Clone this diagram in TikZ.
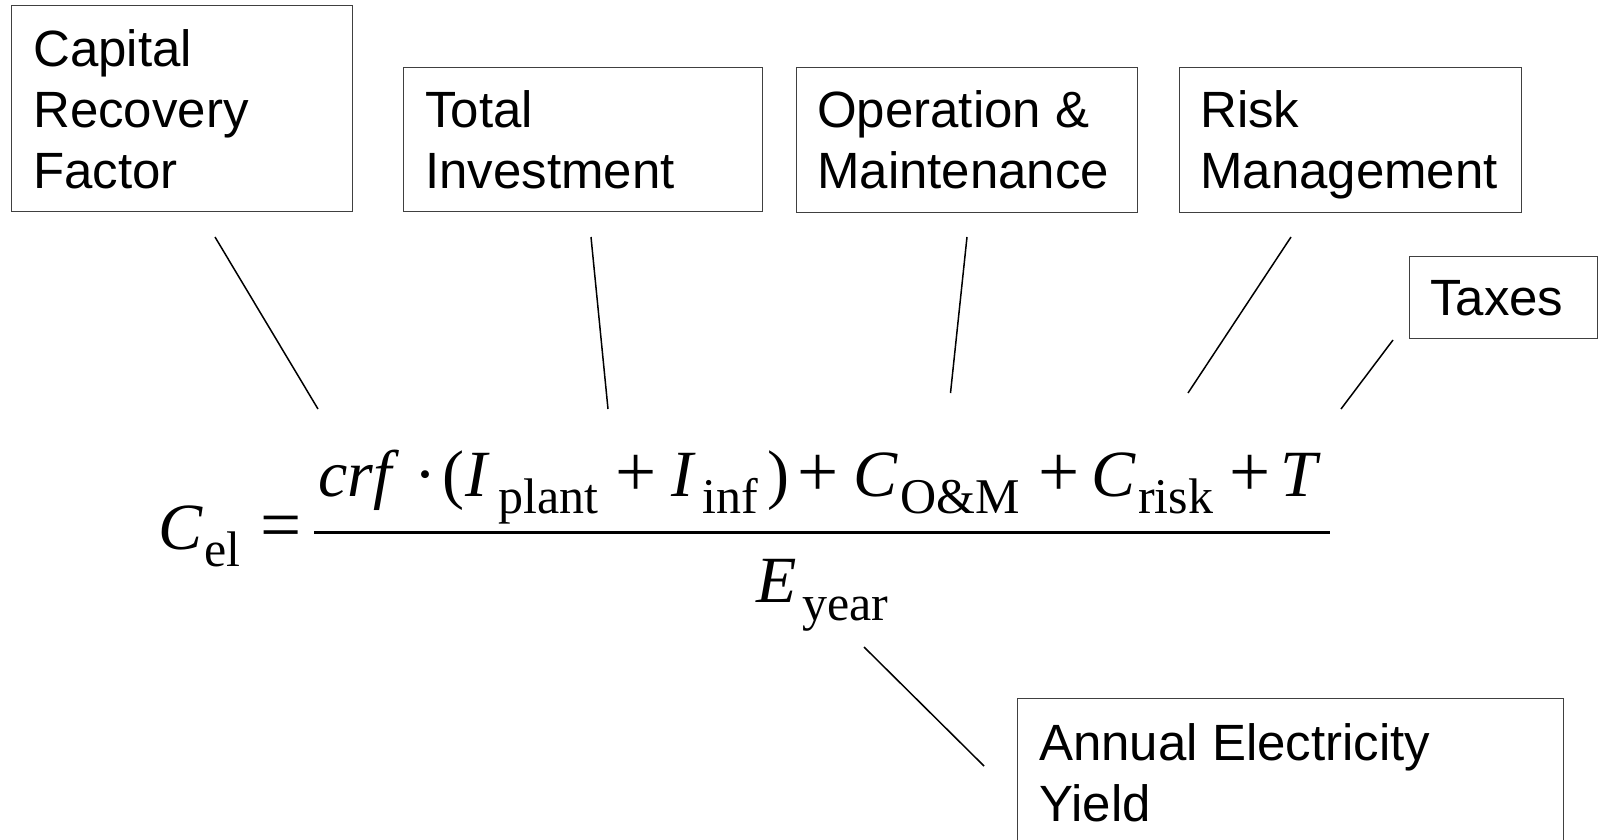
\documentclass[tikz,border=0pt]{standalone}
\usepackage{fontspec}
\setmainfont{Liberation Serif}
\newfontfamily\boxfont{Liberation Sans}
\newcommand{\boxlines}[1]{\vtop{\baselineskip=61pt\lineskiplimit=-100pt #1}}
\begin{document}
\begin{tikzpicture}[x=1pt,y=-1pt,
  boxstyle/.style={draw=black!75,line width=1.2pt,inner sep=0pt,anchor=north west},
  lbl/.style={inner sep=0pt,anchor=base west,font=\boxfont\fontsize{51}{61}\selectfont},
  eqt/.style={inner sep=0pt,anchor=base west,font=\fontsize{66}{70}\selectfont},
  opt/.style={inner sep=0pt,anchor=base west,font=\fontsize{73}{75}\selectfont},
  sbt/.style={inner sep=0pt,anchor=base west,font=\fontsize{50}{52}\selectfont},
  conn/.style={line width=1.5pt,black}]
\useasboundingbox (0,0) rectangle (1604,840);
\clip (0,0) rectangle (1604,840);

% boxes
\node[boxstyle,minimum width=341pt,minimum height=206pt] (crfbox) at (11,5) {};
\node[boxstyle,minimum width=359pt,minimum height=144pt] (tibox) at (403,67) {};
\node[boxstyle,minimum width=341pt,minimum height=145pt] (ombox) at (796,67) {};
\node[boxstyle,minimum width=342pt,minimum height=145pt] (riskbox) at (1179,67) {};
\node[boxstyle,minimum width=188pt,minimum height=82pt] (taxbox) at (1409,256) {};
\node[boxstyle,minimum width=546pt,minimum height=170pt] (aeybox) at (1017,698) {};

% box texts
\node[lbl] (crftxt) at (33,67) {\boxlines{\hbox{Capital}\hbox{Recovery}\hbox{Factor}}};
\node[lbl] (titxt) at (425,128) {\boxlines{\hbox{Total}\hbox{Investment}}};
\node[lbl] (omtxt) at (817,128) {\boxlines{\hbox{Operation \&}\hbox{Maintenance}}};
\node[lbl] (risktxt) at (1200,128) {\boxlines{\hbox{Risk}\hbox{Management}}};
\node[lbl] (taxtxt) at (1430,315) {Taxes};
\node[lbl] (aeytxt) at (1039,760) {\boxlines{\hbox{Annual Electricity}\hbox{Yield}}};

% equation
\node[eqt] (cel) at (158,549) {\itshape C};
\node[sbt] (celsub) at (204,566.7) {el};
\node[opt] (eqsign) at (260,549) {=};
\draw[line width=3.3pt] (314,532.7) coordinate (barl) -- (1330,532.7) coordinate (barr);
\node[eqt] (crf) at (318,496) {\itshape crf};
\node[eqt] (cdot) at (414,496) {·};
\node[eqt] (lpar) at (442,496) {(};
\node[eqt] (iplant) at (465,496) {\itshape I};
\node[sbt] (plant) at (498,513) {plant};
\node[opt] (plus1) at (615,496) {+};
\node[eqt] (iinf) at (671,496) {\itshape I};
\node[sbt] (inf) at (702,513) {inf};
\node[eqt] (rpar) at (767,496) {)};
\node[opt] (plus2) at (797,496) {+};
\node[eqt] (com) at (853,496) {\itshape C};
\node[sbt] (omsub) at (900,513) {O\&M};
\node[opt] (plus3) at (1038,496) {+};
\node[eqt] (crisk) at (1091,496) {\itshape C};
\node[sbt] (risksub) at (1138,513) {risk};
\node[opt] (plus4) at (1229,496) {+};
\node[eqt] (tee) at (1280,496) {\itshape T};
\node[eqt] (ey) at (756,602) {\itshape E};
\node[sbt] (yearsub) at (802,620) {year};

% connectors
\coordinate (c1a) at (215,237); \coordinate (c1b) at (318,409);
\coordinate (c2a) at (591,237); \coordinate (c2b) at (608,409);
\coordinate (c3a) at (967,237); \coordinate (c3b) at (950.5,393);
\coordinate (c4a) at (1291,237); \coordinate (c4b) at (1188,393);
\coordinate (c5a) at (1393,340); \coordinate (c5b) at (1341,409);
\coordinate (c6a) at (864,647); \coordinate (c6b) at (984,766);
\draw[conn] (c1a) -- (c1b);
\draw[conn] (c2a) -- (c2b);
\draw[conn] (c3a) -- (c3b);
\draw[conn] (c4a) -- (c4b);
\draw[conn] (c5a) -- (c5b);
\draw[conn] (c6a) -- (c6b);
\end{tikzpicture}
\end{document}
